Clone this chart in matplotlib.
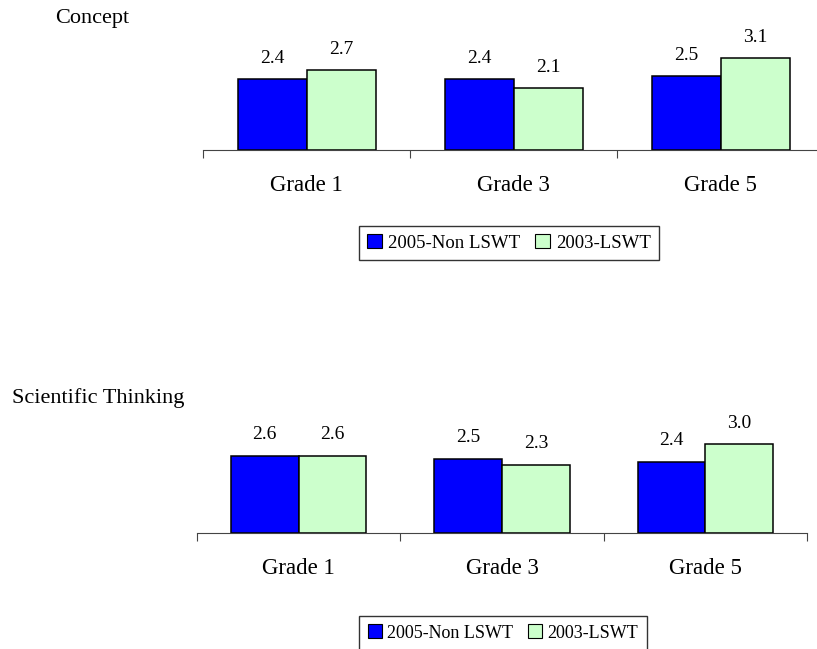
import matplotlib
matplotlib.use("Agg")
import matplotlib.pyplot as plt
from matplotlib.patches import Patch

plt.rcParams['font.family'] = ['Liberation Serif', 'DejaVu Serif']

# data
grades = ['Grade 1', 'Grade 3', 'Grade 5']
series_names = ['2005-Non LSWT', '2003-LSWT']
concept_2005 = [2.4, 2.4, 2.5]
concept_2003 = [2.7, 2.1, 3.1]
thinking_2005 = [2.6, 2.5, 2.4]
thinking_2003 = [2.6, 2.3, 3.0]

colors = ['#0000FF', '#CCFFCC']
W, H = 817, 649
fig = plt.figure(figsize=(W / 100, H / 100), dpi=100)


def panel(rect, title, title_xy, vals_a, vals_b, leg_center, leg_size):
    ax = fig.add_axes(rect)
    bw = 1 / 3
    xs = [i + 0.5 for i in range(len(grades))]
    for k, vals in enumerate([vals_a, vals_b]):
        pos = [x + (k - 0.5) * bw for x in xs]
        ax.bar(pos, vals, width=bw, color=colors[k], edgecolor='black', linewidth=1.1)
        for p, v in zip(pos, vals):
            ax.annotate('%.1f' % v, (p, v), xytext=(0, 15), textcoords='offset points',
                        ha='center', va='center', fontsize=14)
    ax.set_xlim(0, 3)
    ax.set_ylim(0, 4)
    for s in ['left', 'top', 'right']:
        ax.spines[s].set_visible(False)
    ax.spines['bottom'].set_color('#444444')
    ax.set_yticks([])
    ax.set_xticks([0, 1, 2, 3])
    ax.set_xticklabels([])
    ax.tick_params(axis='x', which='major', length=6, color='#444444')
    ax.set_xticks(xs, minor=True)
    ax.set_xticklabels(grades, minor=True, fontsize=16.5)
    ax.tick_params(axis='x', which='minor', length=0, pad=18)
    fig.text(title_xy[0] / W, 1 - title_xy[1] / H, title, fontsize=16,
             ha='left', va='center')
    handles = [Patch(facecolor=c, edgecolor='black', linewidth=0.8) for c in colors]
    fig.legend(handles, series_names, loc='center',
               bbox_to_anchor=(leg_center[0] / W, 1 - leg_center[1] / H),
               ncol=2, fontsize=leg_size, frameon=True, fancybox=False,
               edgecolor='black', handlelength=0.8, handleheight=0.8,
               handletextpad=0.3, columnspacing=0.8, borderpad=0.45)
    return ax


# top panel: Concept
panel([203 / W, (H - 150) / H, 621 / W, 118.4 / H], 'Concept', (55, 18),
      concept_2005, concept_2003, (509, 243), 13.5)

# bottom panel: Scientific Thinking
panel([197 / W, (H - 532.7) / H, 610 / W, 118.4 / H], 'Scientific Thinking', (12, 398),
      thinking_2005, thinking_2003, (503, 633), 13)

fig.savefig('out.png', dpi=100)
